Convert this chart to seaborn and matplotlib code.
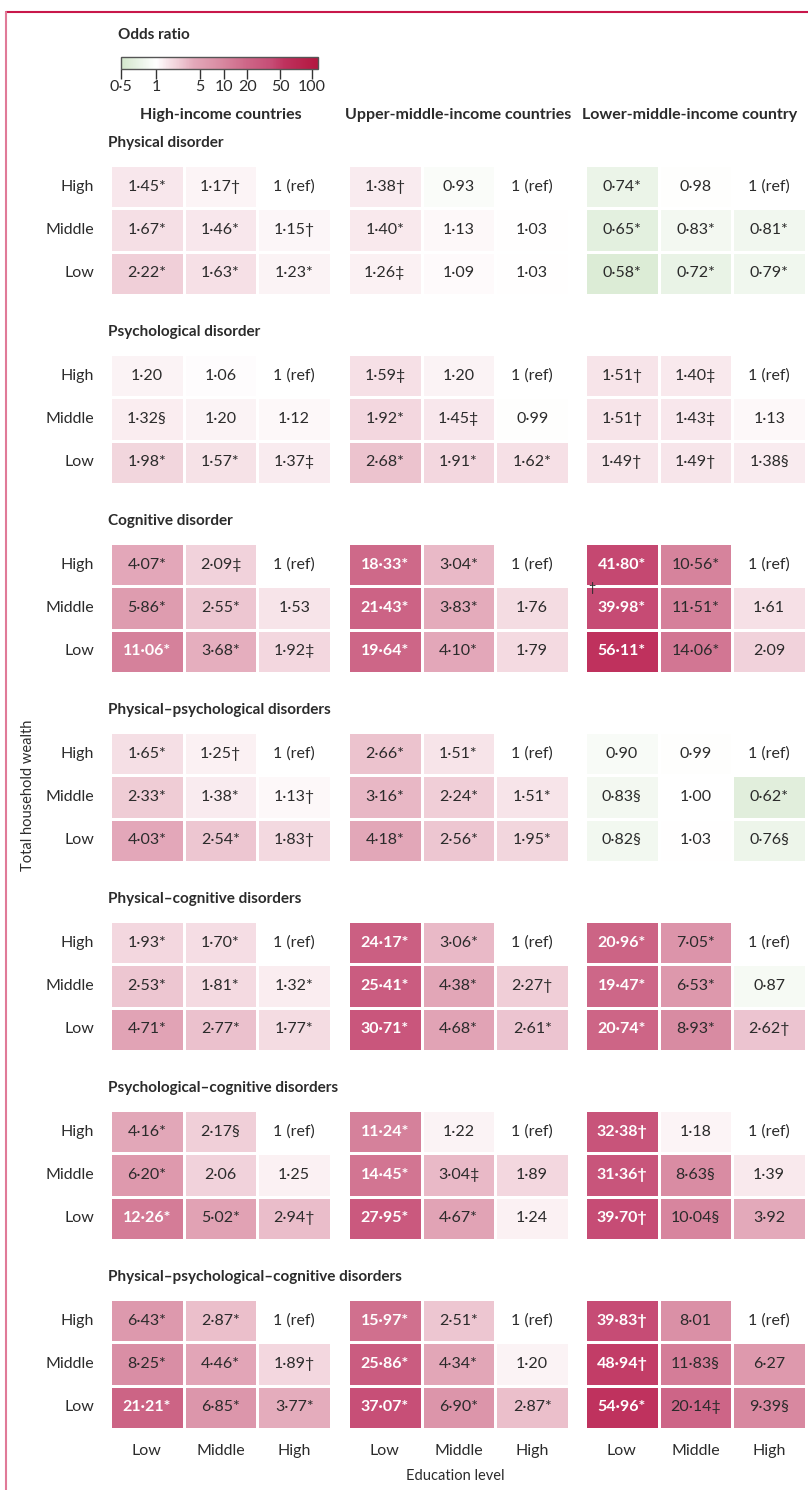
import numpy as np
import pandas as pd
import matplotlib
matplotlib.use("Agg")
import matplotlib.pyplot as plt
import seaborn as sns
from matplotlib.colors import LinearSegmentedColormap, FuncNorm
from matplotlib.lines import Line2D

sns.set_theme(style="white")
plt.rcParams['font.family'] = ['Lato', 'DejaVu Sans']

# ==================== data ====================
groups = ["High-income countries", "Upper-middle-income countries", "Lower-middle-income country"]
wealth = ["High", "Middle", "Low"]
education = ["Low", "Middle", "High"]

outcomes = [
    "Physical disorder",
    "Psychological disorder",
    "Cognitive disorder",
    "Physical–psychological disorders",
    "Physical–cognitive disorders",
    "Psychological–cognitive disorders",
    "Physical–psychological–cognitive disorders",
]

# each row: HIC (low, middle, high edu) | UMIC | LMIC
physical = [
    ["1·45*", "1·17†", "1 (ref)", "1·38†", "0·93", "1 (ref)", "0·74*", "0·98", "1 (ref)"],
    ["1·67*", "1·46*", "1·15†", "1·40*", "1·13", "1·03", "0·65*", "0·83*", "0·81*"],
    ["2·22*", "1·63*", "1·23*", "1·26‡", "1·09", "1·03", "0·58*", "0·72*", "0·79*"],
]
psychological = [
    ["1·20", "1·06", "1 (ref)", "1·59‡", "1·20", "1 (ref)", "1·51†", "1·40‡", "1 (ref)"],
    ["1·32§", "1·20", "1·12", "1·92*", "1·45‡", "0·99", "1·51†", "1·43‡", "1·13"],
    ["1·98*", "1·57*", "1·37‡", "2·68*", "1·91*", "1·62*", "1·49†", "1·49†", "1·38§"],
]
cognitive = [
    ["4·07*", "2·09‡", "1 (ref)", "18·33*", "3·04*", "1 (ref)", "41·80*", "10·56*", "1 (ref)"],
    ["5·86*", "2·55*", "1·53", "21·43*", "3·83*", "1·76", "39·98*", "11·51*", "1·61"],
    ["11·06*", "3·68*", "1·92‡", "19·64*", "4·10*", "1·79", "56·11*", "14·06*", "2·09"],
]
phys_psych = [
    ["1·65*", "1·25†", "1 (ref)", "2·66*", "1·51*", "1 (ref)", "0·90", "0·99", "1 (ref)"],
    ["2·33*", "1·38*", "1·13†", "3·16*", "2·24*", "1·51*", "0·83§", "1·00", "0·62*"],
    ["4·03*", "2·54*", "1·83†", "4·18*", "2·56*", "1·95*", "0·82§", "1·03", "0·76§"],
]
phys_cog = [
    ["1·93*", "1·70*", "1 (ref)", "24·17*", "3·06*", "1 (ref)", "20·96*", "7·05*", "1 (ref)"],
    ["2·53*", "1·81*", "1·32*", "25·41*", "4·38*", "2·27†", "19·47*", "6·53*", "0·87"],
    ["4·71*", "2·77*", "1·77*", "30·71*", "4·68*", "2·61*", "20·74*", "8·93*", "2·62†"],
]
psych_cog = [
    ["4·16*", "2·17§", "1 (ref)", "11·24*", "1·22", "1 (ref)", "32·38†", "1·18", "1 (ref)"],
    ["6·20*", "2·06", "1·25", "14·45*", "3·04‡", "1·89", "31·36†", "8·63§", "1·39"],
    ["12·26*", "5·02*", "2·94†", "27·95*", "4·67*", "1·24", "39·70†", "10·04§", "3·92"],
]
all_three = [
    ["6·43*", "2·87*", "1 (ref)", "15·97*", "2·51*", "1 (ref)", "39·83†", "8·01", "1 (ref)"],
    ["8·25*", "4·46*", "1·89†", "25·86*", "4·34*", "1·20", "48·94†", "11·83§", "6·27"],
    ["21·21*", "6·85*", "3·77*", "37·07*", "6·90*", "2·87*", "54·96*", "20·14‡", "9·39§"],
]
tables = [physical, psychological, cognitive, phys_psych, phys_cog, psych_cog, all_three]

cbar_ticks = [0.5, 1, 5, 10, 20, 50, 100]
cbar_ticklabels = ["0·5", "1", "5", "10", "20", "50", "100"]


def to_value(s):
    return float(s.split()[0].rstrip("*†‡§").replace("·", "."))


# ==================== colour scale ====================
# colour bar is not log-linear: piecewise in log space
anchor_vals = [0.5, 1, 5, 10, 20, 50, 100, 114]
anchor_pos = [0.0, 0.178, 0.401, 0.523, 0.640, 0.807, 0.970, 1.0]
lv = np.log10(anchor_vals)


def fwd(x):
    return np.interp(np.log10(np.clip(x, 0.5, 114)), lv, anchor_pos)


def inv(y):
    return 10 ** np.interp(y, anchor_pos, lv)


norm = FuncNorm((fwd, inv), vmin=0.5, vmax=114)

col_vals = [0.5, 1, 1.5, 2.2, 4, 8, 20, 40, 55, 114]
col_hex = ["#d3e7cc", "#ffffff", "#f7e4e9", "#f0cfd8", "#e3a8b9",
           "#da90a6", "#cd6687", "#c64c75", "#bf325e", "#b3173f"]
pos = [float(fwd(v)) for v in col_vals]
cmap = LinearSegmentedColormap.from_list("odds", list(zip(pos, col_hex)))

# ==================== figure ====================
W, H = 808, 1490
fig = plt.figure(figsize=(W / 100, H / 100), dpi=100)


def fx(px):
    return px / W


def fy(py):
    return 1 - py / H


group_left = [110, 348, 585]
group_w = 221
header_x = [221, 458, 690]
sec_top0, sec_step, sec_h = 165, 189, 130
txt_dark = "#2b2b2b"

mesh = None
for k, (title, table) in enumerate(zip(outcomes, tables)):
    top = sec_top0 + sec_step * k
    fig.text(fx(108), fy(top - 22), title, fontsize=11, fontweight="bold",
             color=txt_dark, ha="left", va="center")
    for g in range(3):
        labels = np.array([row[3 * g:3 * g + 3] for row in table])
        vals = np.vectorize(to_value)(labels)
        df = pd.DataFrame(vals, index=wealth, columns=education)
        ax = fig.add_axes([fx(group_left[g]), fy(top + sec_h), fx(group_w), sec_h / H])
        sns.heatmap(df, ax=ax, cmap=cmap, norm=norm, cbar=False,
                    annot=labels, fmt="", linewidths=1, linecolor="white",
                    annot_kws=dict(fontsize=11.5, color=txt_dark),
                    xticklabels=education if k == len(outcomes) - 1 else False,
                    yticklabels=wealth if g == 0 else False)
        mesh = ax.collections[0]
        # dark cells (low education, large odds) get white text
        for t, v, j in zip(ax.texts, vals.flat, np.tile(np.arange(3), 3)):
            if v >= 11 and j == 0:
                t.set_color("white")
                t.set_fontweight("bold")
        ax.tick_params(axis="both", length=0)
        if g == 0:
            ax.set_yticklabels(wealth, rotation=0, fontsize=11.5, color=txt_dark)
            ax.tick_params(axis="y", pad=11.5)
        if k == len(outcomes) - 1:
            ax.set_xticklabels(education, rotation=0, fontsize=11.5, color=txt_dark)
            ax.tick_params(axis="x", pad=11)
        ax.set_xlabel("")
        ax.set_ylabel("")
        if k == 2 and g == 2:
            ax.text(0.09, 1.03, "†", fontsize=9, color=txt_dark, ha="center", va="center")

# group headers
for g, name in enumerate(groups):
    fig.text(fx(header_x[g]), fy(115), name, fontsize=11.5,
             fontweight="bold", color=txt_dark, ha="center", va="center")

# axis titles
fig.text(fx(28), fy(795), "Total household wealth", rotation=90, fontsize=10.5,
         color=txt_dark, ha="center", va="center")
fig.text(fx(455), fy(1476), "Education level", fontsize=10.5, color=txt_dark,
         ha="center", va="center")

# colour bar
fig.text(fx(118), fy(35), "Odds ratio", fontsize=11, fontweight="bold",
         color=txt_dark, ha="left", va="center")
cax = fig.add_axes([fx(121), fy(69), fx(197), 12 / H])
cb = fig.colorbar(mesh, cax=cax, orientation="horizontal")
cb.set_ticks(cbar_ticks)
cb.set_ticklabels(cbar_ticklabels)
cax.tick_params(axis="x", length=7, width=1, color="#333333", labelsize=11.5,
                labelcolor=txt_dark, pad=1, direction="out")
cax.minorticks_off()
cb.outline.set_edgecolor("#555555")
cb.outline.set_linewidth(1)

# frame lines
border = "#c8174a"
fig.add_artist(Line2D([fx(6), 1], [fy(12), fy(12)], transform=fig.transFigure,
                      color=border, lw=1.5))
fig.add_artist(Line2D([fx(6), fx(6)], [fy(12), 0], transform=fig.transFigure,
                      color="#e07a98", lw=1.5))

fig.savefig("out.png", dpi=100)
